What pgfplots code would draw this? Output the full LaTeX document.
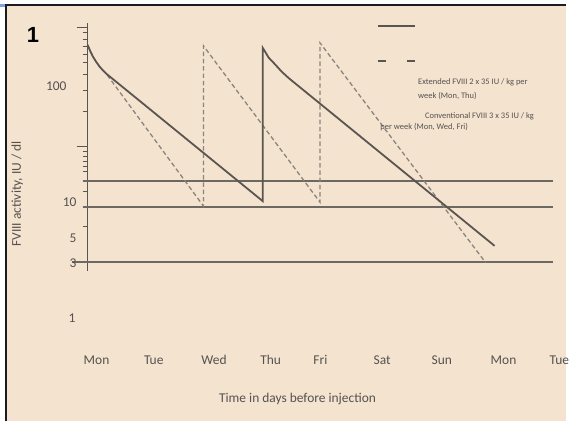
\documentclass[border=0pt]{standalone}
\usepackage{pgfplots}
\pgfplotsset{compat=1.18}
\usepackage{fontspec}
\setmainfont{Carlito}
\newfontfamily\arialbold[BoldFont={Liberation Sans Bold}]{Liberation Sans}
\definecolor{bg}{HTML}{F4E3CF}
\definecolor{ln}{HTML}{5A5550}
\definecolor{dl}{HTML}{8A847E}
\definecolor{hl}{HTML}{6E6862}
\definecolor{tx}{HTML}{55524F}
\definecolor{fr}{HTML}{1A1C22}
\definecolor{bl}{HTML}{7FA6D9}
\begin{document}
\begin{tikzpicture}
\begin{scope}[x=1bp,y=-1bp]
\useasboundingbox (0,0) rectangle (569,423);
\fill[white] (0,0) rectangle (569,423);
\fill[bg] (6,5) rectangle (569,423);
\fill[bl] (0,4) rectangle (6,7);
\draw[fr, line width=2bp] (6.5,423) -- (6.5,5.5) -- (569,5.5);
\end{scope}

\begin{axis}[
  at={(88bp,-272bp)}, anchor=south west,
  scale only axis, width=468bp, height=249bp,
  xmin=0, xmax=8,
  ymode=log, ymin=2.584, ymax=394.9,
  axis x line=none, axis y line*=left,
  y axis line style={ln, line width=1.3bp, -},
  ytick={3.1,6.3,9.4,13.0,15.9,19.5,21.5,23.8,26.4,29.2,65.5,100,138,176,207,243,280,323},
  yticklabels={}, minor ytick={},
  extra y ticks={32.3,357}, extra y tick labels={},
  extra y tick style={major tick length=11bp},
  tick align=outside, ytick pos=left,
  major tick length=5bp,
  tick style={ln, line width=1bp},
  clip=false,
]
% horizontal reference lines
\addplot[hl, line width=1.8bp] coordinates {(-0.085,15.9) (8,15.9)};
\addplot[hl, line width=1.8bp] coordinates {(-0.085,9.4) (8,9.4)};
\addplot[hl, line width=1.8bp] coordinates {(-0.26,3.1) (8,3.1)};
% conventional (dashed)
\addplot[dl, line width=1.3bp, dash pattern=on 4.5bp off 2.8bp] coordinates {
 (0,253) (0.044,224) (0.09,200) (0.145,180) (0.205,163) (0.262,151) (0.32,141)
 (1.99,9.6) (1.99,248) (3.991,10.4) (3.991,264) (6.838,3.04)};
% extended (solid)
\addplot[ln, line width=1.8bp] coordinates {
 (0,253) (0.044,224) (0.09,200) (0.145,180) (0.205,163) (0.262,151) (0.32,141)
 (3.009,10.6) (3.009,238) (3.111,195) (3.226,169) (3.333,147) (3.453,129) (6.991,4.28)};
\end{axis}

\begin{scope}[x=1bp,y=-1bp]
% y tick labels
\begin{scope}[every node/.style={inner sep=0pt, text=tx, font=\fontsize{13.5bp}{16bp}\selectfont}]
\node[anchor=east] at (67,87) {100};
\node[anchor=east] at (77,203) {10};
\node[anchor=east] at (77,239) {5};
\node[anchor=east] at (77,264) {3};
\node[anchor=east] at (76,320) {1};
% x tick labels
\node at (97,362) {Mon};
\node at (154.5,362) {Tue};
\node at (215,362) {Wed};
\node at (272,362) {Thu};
\node at (322,362) {Fri};
\node at (384,362) {Sat};
\node at (444,362) {Sun};
\node at (506,362) {Mon};
\node at (562,362) {Tue};
\node at (299,401) {Time in days before injection};
\node[rotate=90] at (17.5,195) {FVIII activity, IU / dl};
\end{scope}
\node[inner sep=0pt, font=\arialbold\bfseries\fontsize{22bp}{24bp}\selectfont] at (33,35) {1};
% legend keys
\draw[ln, line width=2.2bp] (380,26) -- (417,26);
\draw[ln, line width=2bp] (380,61) -- (388,61);
\draw[ln, line width=2bp] (409,61) -- (417,61);
\begin{scope}[every node/.style={inner sep=0pt, anchor=west, text=tx, font=\fontsize{8.5bp}{10bp}\selectfont}]
\node at (420,83) {Extended FVIII 2 x 35 IU / kg per};
\node at (420,96) {week (Mon, Thu)};
\node at (427,117) {Conventional FVIII 3 x 35 IU / kg};
\node at (382,128) {per week (Mon, Wed, Fri)};
\end{scope}
\end{scope}
\end{tikzpicture}
\end{document}
